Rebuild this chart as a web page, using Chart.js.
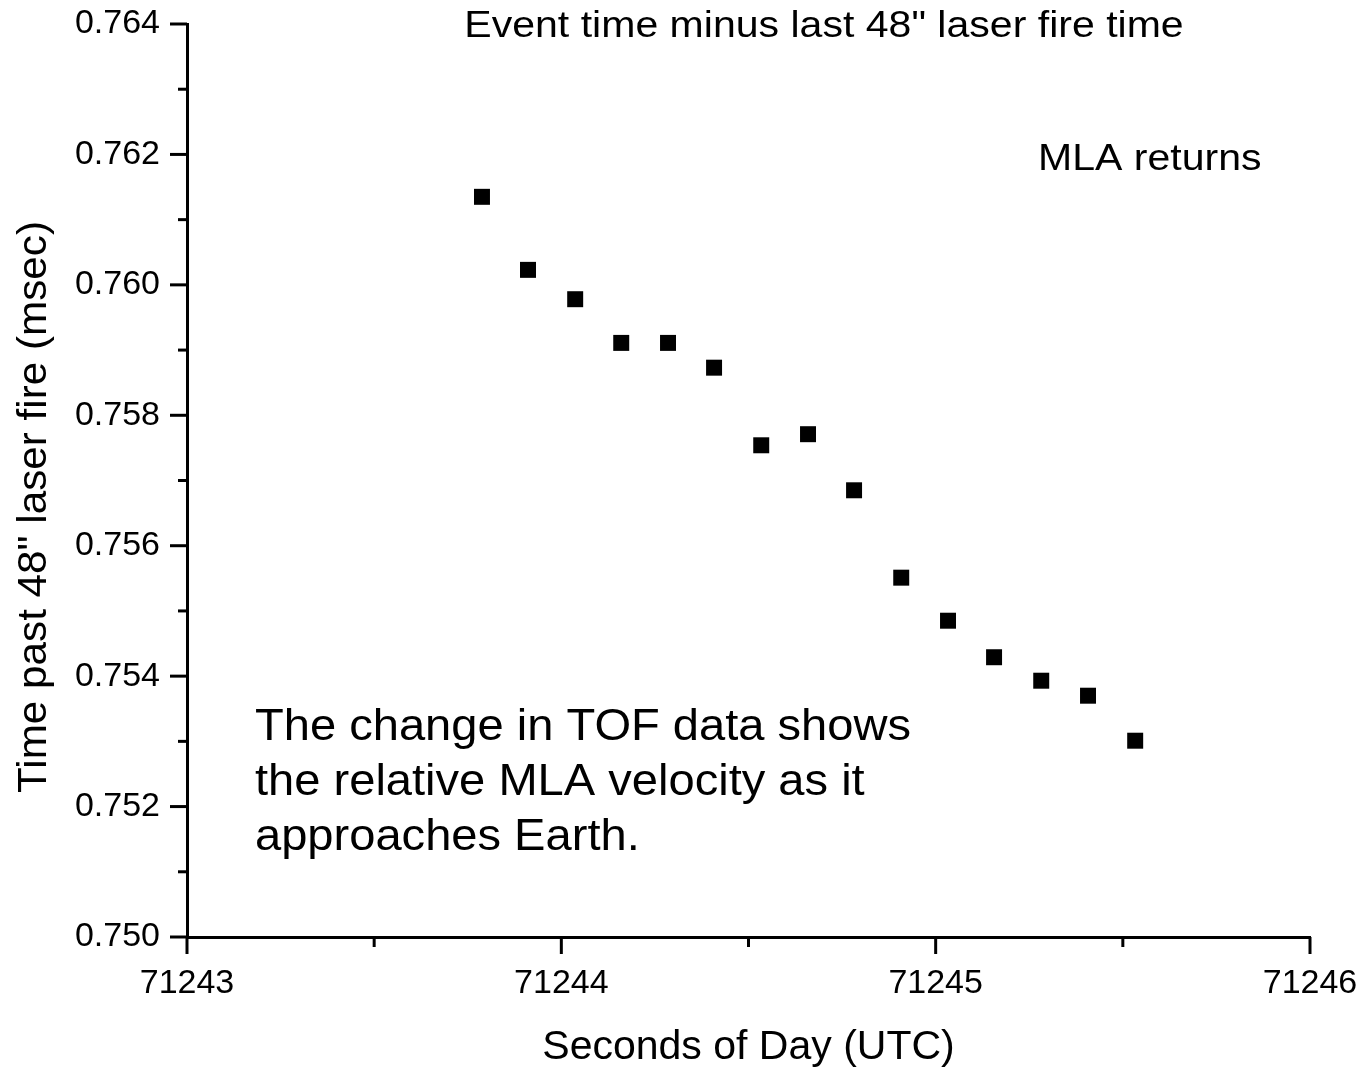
<!DOCTYPE html>
<html>
<head>
<meta charset="utf-8">
<script src="https://cdn.jsdelivr.net/npm/chart.js@4.4.0/dist/chart.umd.min.js"></script>
<style>
  html, body { margin: 0; padding: 0; background: #fff; }
  #wrap { width: 1360px; height: 1068px; }
</style>
</head>
<body>
<div id="wrap"><canvas id="myChart" width="1360" height="1068"></canvas></div>
<script>
// data
const seconds = [71243.788, 71243.911, 71244.037, 71244.160, 71244.285, 71244.408, 71244.534, 71244.659,
                 71244.782, 71244.908, 71245.033, 71245.156, 71245.282, 71245.407, 71245.533];
const timePast = [0.76135, 0.76023, 0.75978, 0.75911, 0.75911, 0.75873, 0.75754, 0.75771,
                  0.75685, 0.75551, 0.75485, 0.75429, 0.75393, 0.75370, 0.75301];
const xTickLabels = ["71243", "71244", "71245", "71246"];
const yTickLabels = ["0.750", "0.752", "0.754", "0.756", "0.758", "0.760", "0.762", "0.764"];

const font = "'Liberation Sans', Arial, sans-serif";

const points = seconds.map((s, i) => ({ x: s, y: timePast[i] }));

// text drawn a bit wider, like the original picture
function wideText(ctx, text, x, y, size, sx, align) {
  ctx.save();
  ctx.font = size + "px " + font;
  ctx.textAlign = align;
  ctx.textBaseline = "middle";
  ctx.translate(x, y);
  ctx.scale(sx, 1);
  ctx.fillText(text, 0, 0);
  ctx.restore();
}

// draws the outward major/minor ticks and the text notes
const extrasPlugin = {
  id: "extras",
  afterDraw(chart) {
    const ctx = chart.ctx;
    const xs = chart.scales.x;
    const ys = chart.scales.y;
    const area = chart.chartArea;
    ctx.save();
    ctx.strokeStyle = "#000";
    ctx.lineWidth = 3;
    xs.ticks.forEach(t => {
      const px = xs.getPixelForValue(t.value);
      const major = Math.abs(t.value - Math.round(t.value)) < 1e-6;
      ctx.beginPath();
      ctx.moveTo(px, area.bottom);
      ctx.lineTo(px, area.bottom + (major ? 17 : 10));
      ctx.stroke();
    });
    ys.ticks.forEach(t => {
      const py = ys.getPixelForValue(t.value);
      const k = Math.round(t.value * 1000);
      const major = k % 2 === 0;
      ctx.beginPath();
      ctx.moveTo(area.left, py);
      ctx.lineTo(area.left - (major ? 17 : 9), py);
      ctx.stroke();
    });

    ctx.fillStyle = "#000";
    wideText(ctx, 'Event time minus last 48" laser fire time', 824, 27, 36, 1.14, "center");
    wideText(ctx, "MLA returns", 1038, 160, 36, 1.14, "left");
    wideText(ctx, "The change in TOF data shows", 255, 728, 44, 1.07, "left");
    wideText(ctx, "the relative MLA velocity as it", 255, 783, 44, 1.07, "left");
    wideText(ctx, "approaches Earth.", 255, 838, 44, 1.07, "left");

    // y axis title
    ctx.save();
    ctx.translate(35, 507);
    ctx.rotate(-Math.PI / 2);
    ctx.font = "41px " + font;
    ctx.textAlign = "center";
    ctx.textBaseline = "middle";
    ctx.scale(1.03, 1);
    ctx.fillText('Time past 48" laser fire (msec)', 0, 0);
    ctx.restore();
    ctx.restore();
  }
};

const ctx = document.getElementById("myChart").getContext("2d");
const myChart = new Chart(ctx, {
  type: "scatter",
  data: {
    datasets: [{
      label: "MLA returns",
      data: points,
      pointStyle: "rect",
      pointRadius: 11.3,
      pointHoverRadius: 11.3,
      borderWidth: 0,
      backgroundColor: "#000",
      borderColor: "#000"
    }]
  },
  options: {
    responsive: false,
    animation: false,
    devicePixelRatio: 1,
    layout: { padding: { top: 24, right: 50, left: 0, bottom: 0 } },
    plugins: {
      legend: { display: false },
      tooltip: { enabled: false }
    },
    scales: {
      x: {
        type: "linear",
        min: 71243,
        max: 71246,
        afterFit(scale) {
          scale.height = 131;
          scale.paddingLeft = 0;
          scale.paddingRight = 0;
        },
        border: { display: true, color: "#000", width: 3 },
        grid: { display: false, drawTicks: false },
        ticks: {
          stepSize: 0.5,
          padding: 26,
          color: "#000",
          font: { family: font, size: 34 },
          maxRotation: 0,
          autoSkip: false,
          callback(v) {
            const i = xTickLabels.indexOf(String(v));
            return i >= 0 ? xTickLabels[i] : "";
          }
        },
        title: {
          display: true,
          text: "Seconds of Day (UTC)",
          color: "#000",
          font: { family: font, size: 41, lineHeight: 1 },
          padding: { top: 0, bottom: 0 }
        }
      },
      y: {
        type: "linear",
        min: 0.750,
        max: 0.764,
        afterFit(scale) {
          scale.width = 187;
          scale.paddingTop = 0;
          scale.paddingBottom = 0;
        },
        border: { display: true, color: "#000", width: 3 },
        grid: { display: false, drawTicks: false },
        ticks: {
          stepSize: 0.001,
          padding: 27,
          color: "#000",
          font: { family: font, size: 34 },
          autoSkip: false,
          callback(v) {
            const label = v.toFixed(3);
            return yTickLabels.includes(label) ? label : "";
          }
        },
        title: { display: false }
      }
    }
  },
  plugins: [extrasPlugin]
});
</script>
</body>
</html>
